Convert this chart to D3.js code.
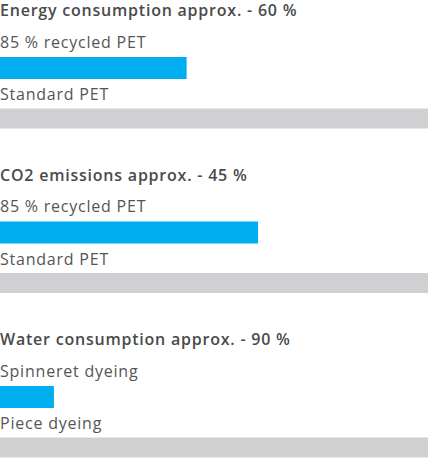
<!DOCTYPE html>
<html>
<head>
<meta charset="utf-8">
<script src="https://cdn.jsdelivr.net/npm/d3@7"></script>
<style>
body { margin:0; background:#fff; }
text { font-family: "Open Sans", sans-serif; fill:#555; letter-spacing:0.78px; }
</style>
</head>
<body>
<svg id="chart"></svg>
<script>
// section titles
const titles = ['Energy consumption approx. - 60 %', 'CO2 emissions approx. - 45 %', 'Water consumption approx. - 90 %'];
// row labels per section
const labelsA = ['85 % recycled PET', '85 % recycled PET', 'Spinneret dyeing'];
const labelsB = ['Standard PET', 'Standard PET', 'Piece dyeing'];
// bar values (% of standard)
const valuesA = [43.6, 60.3, 12.6];
const valuesB = [100, 100, 100];

const width = 440, height = 466;
const svg = d3.select('#chart').attr('width', width).attr('height', height);

//scales
const x = d3.scaleLinear().domain([0, 100]).range([0, 428]);
const ySection = d3.scalePoint().domain(titles).range([17, 346]);

const sections = svg.selectAll('g.section')
    .data(titles.map((t, i) => ({ title: t, la: labelsA[i], lb: labelsB[i], va: valuesA[i], vb: valuesB[i] })))
    .enter()
    .append('g')
    .attr('class', 'section')
    .attr('transform', d => `translate(0,${ySection(d.title)})`);

sections.append('text')
    .attr('x', 0).attr('y', -1)
    .style('font-size', '16px')
    .style('font-weight', '600')
    .style('fill', '#4a4a4a')
    .text(d => d.title);

sections.append('text')
    .attr('x', 0).attr('y', 30.5)
    .style('font-size', '16px')
    .text(d => d.la);

sections.append('rect')
    .attr('x', 0).attr('y', 40)
    .attr('height', 22)
    .attr('width', d => x(d.va))
    .attr('fill', '#00aeef');

sections.append('text')
    .attr('x', 0).attr('y', 83)
    .style('font-size', '16px')
    .text(d => d.lb);

sections.append('rect')
    .attr('x', 0).attr('y', 91.5)
    .attr('height', 20)
    .attr('width', d => x(d.vb))
    .attr('fill', '#d0d0d2');
</script>
</body>
</html>
